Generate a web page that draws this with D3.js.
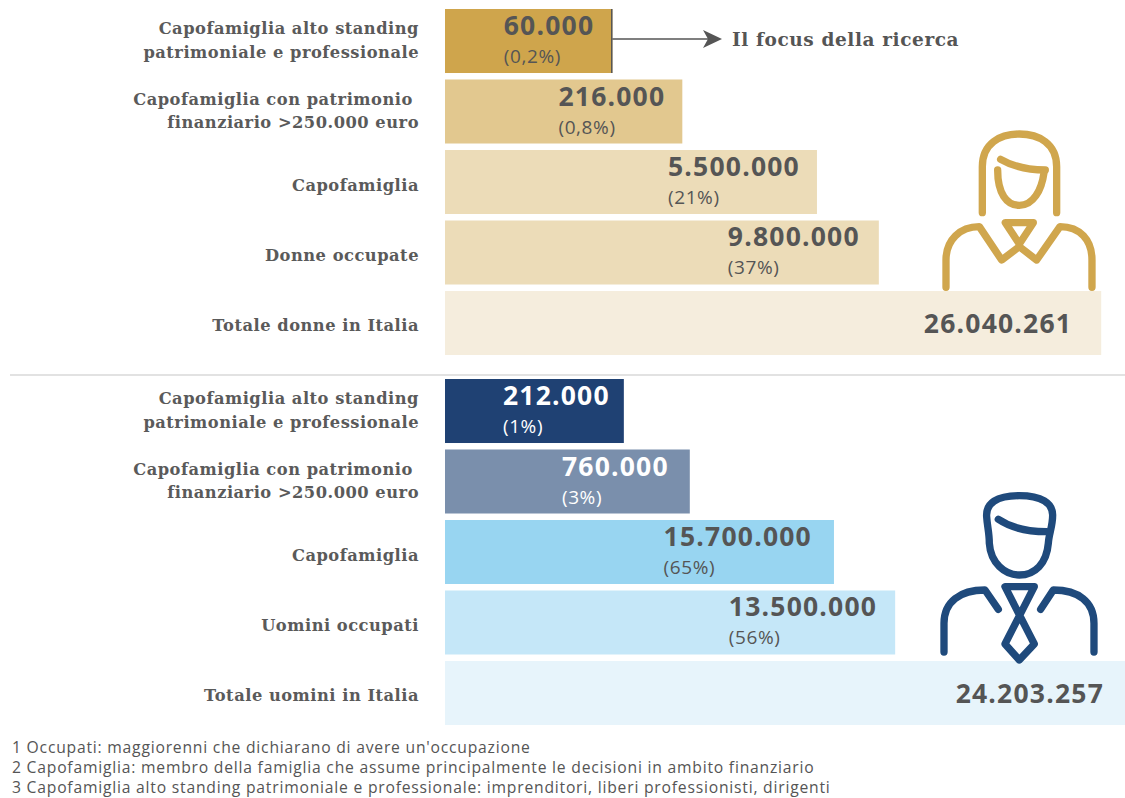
<!DOCTYPE html>
<html>
<head>
<meta charset="utf-8">
<script src="https://cdn.jsdelivr.net/npm/d3@7"></script>
<style>
html, body { margin: 0; padding: 0; background: #fff; }
svg { display: block; }
.label { font-family: "DejaVu Serif", serif; font-weight: 700; font-size: 16.3px; letter-spacing: .5px; fill: #5a5a5a; }
.value { font-family: "Open Sans", sans-serif; font-weight: 700; font-size: 26.5px; letter-spacing: 1.2px; }
.share { font-family: "Open Sans", sans-serif; font-size: 19px; letter-spacing: .6px; }
.note { font-family: "Open Sans", sans-serif; font-size: 15.7px; letter-spacing: .78px; fill: #555; }
.focus { font-family: "DejaVu Serif", serif; font-weight: 700; font-size: 18.5px; letter-spacing: .6px; fill: #555; }
</style>
</head>
<body>
<svg id="chart" width="1125" height="798"></svg>
<script>
"use strict";

var womenLabels = ["Capofamiglia alto standing|patrimoniale e professionale", "Capofamiglia con patrimonio |finanziario >250.000 euro", "Capofamiglia", "Donne occupate", "Totale donne in Italia"]
var womenValues = ["60.000", "216.000", "5.500.000", "9.800.000", "26.040.261"]
var womenShares = ["(0,2%)", "(0,8%)", "(21%)", "(37%)", ""]
// le barre non sono proporzionali ai valori: lunghezza (indice, totale uomini = 100)
var womenLengths = [24.6, 34.9, 54.7, 63.8, 96.5]

var menLabels = ["Capofamiglia alto standing|patrimoniale e professionale", "Capofamiglia con patrimonio |finanziario >250.000 euro", "Capofamiglia", "Uomini occupati", "Totale uomini in Italia"]
var menValues = ["212.000", "760.000", "15.700.000", "13.500.000", "24.203.257"]
var menShares = ["(1%)", "(3%)", "(65%)", "(56%)", ""]
var menLengths = [26.3, 36, 57.2, 66.2, 100]

var notes = [
    "1 Occupati: maggiorenni che dichiarano di avere un'occupazione",
    "2 Capofamiglia: membro della famiglia che assume principalmente le decisioni in ambito finanziario",
    "3 Capofamiglia alto standing patrimoniale e professionale: imprenditori, liberi professionisti, dirigenti"
]

var svg = d3.select("#chart")
var x = d3.scaleLinear().domain([0, 100]).range([445, 1125])

function drawGroup(top, bottom, labels, values, shares, lengths, colors, valueColors, insets) {
    var y = d3.scaleBand().domain(d3.range(labels.length)).range([top, bottom]).paddingInner(0.092)
    var row = svg.append("g").selectAll("g").data(labels).join("g")

    row.append("rect")
        .attr("x", x(0))
        .attr("y", (d, i) => y(i))
        .attr("width", (d, i) => x(lengths[i]) - x(0))
        .attr("height", y.bandwidth())
        .attr("fill", (d, i) => colors[i])

    row.each(function (d, i) {
        var lines = d.split("|")
        var mid = y(i) + y.bandwidth() / 2
        var g = d3.select(this)
        lines.forEach(function (line, k) {
            g.append("text")
                .attr("class", "label")
                .attr("x", 419)
                .attr("y", mid + (lines.length > 1 ? 5 : 8.5) + (k - (lines.length - 1) / 2) * 23.5)
                .attr("text-anchor", "end")
                .style("white-space", "pre")
                .text(line)
        })

        var hasShare = shares[i] !== ""
        var value = g.append("text")
            .attr("class", "value")
            .attr("x", x(lengths[i]) - insets[i])
            .attr("y", mid + (hasShare ? -6 : 10))
            .attr("text-anchor", "end")
            .attr("fill", valueColors[i])
            .text(values[i])

        if (hasShare) {
            // la percentuale parte dallo stesso bordo sinistro del valore
            var left = value.node().getBBox().x
            g.append("text")
                .attr("class", "share")
                .attr("x", left)
                .attr("y", mid + 22)
                .attr("fill", valueColors[i])
                .text(shares[i])
        }
    })
    return y
}

var gold = ["#cfa54c", "#e2c88f", "#ecdcb8", "#ecdcb8", "#f5eddd"]
var blue = ["#1f4173", "#7a8fac", "#98d5f1", "#c5e7f8", "#e7f4fb"]
var dark = "#555555"

var yWomen = drawGroup(9, 355, womenLabels, womenValues, womenShares, womenLengths, gold,
    [dark, dark, dark, dark, dark], [18, 17, 17, 19, 29])
drawGroup(379, 725, menLabels, menValues, menShares, menLengths, blue,
    ["#ffffff", "#ffffff", dark, dark, dark], [14, 21, 22, 18, 21])

// separatore
svg.append("line")
    .attr("x1", 10).attr("x2", 1125)
    .attr("y1", 375).attr("y2", 375)
    .attr("stroke", "#d9d9d9").attr("stroke-width", 1.5)

// freccia "Il focus della ricerca"
var barEnd = x(womenLengths[0])
var midFirst = yWomen(0) + yWomen.bandwidth() / 2
svg.append("line")
    .attr("x1", barEnd - 0.5).attr("x2", barEnd - 0.5)
    .attr("y1", yWomen(0)).attr("y2", yWomen(0) + yWomen.bandwidth())
    .attr("stroke", "#555").attr("stroke-width", 1.5)
svg.append("line")
    .attr("x1", barEnd).attr("x2", 708)
    .attr("y1", midFirst - 2).attr("y2", midFirst - 2)
    .attr("stroke", "#555").attr("stroke-width", 1.5)
svg.append("path")
    .attr("d", d3.line()([[703, midFirst - 11], [722, midFirst - 2], [703, midFirst + 7], [708, midFirst - 2]]) + "Z")
    .attr("fill", "#555")
svg.append("text")
    .attr("class", "focus")
    .attr("x", 732)
    .attr("y", midFirst + 4.5)
    .text("Il focus della ricerca")

// icone
function drawIcon(ox, oy, color, paths) {
    svg.append("g")
        .attr("transform", "translate(" + ox + "," + oy + ") scale(0.3333)")
        .selectAll("path").data(paths).join("path")
        .attr("d", d => d)
        .attr("fill", "none")
        .attr("stroke", color)
        .attr("stroke-width", 22)
        .attr("stroke-linecap", "round")
        .attr("stroke-linejoin", "round")
}

drawIcon(900, 110, "#d0a64d", [
    "M247 308V170C247 100 300 72 358 72C416 72 470 100 470 170V308",
    "M302 148C340 170 390 180 436 180",
    "M293 180C293 250 320 286 358 286C400 286 425 240 432 188",
    "M316 338H400L358 402Z",
    "M138 532V450C138 390 180 350 238 350L305 450L358 410L410 450L480 350C540 350 576 390 576 450V532"
])
drawIcon(900, 480, "#1f4a7c", [
    "M358 47C290 47 257 70 260 110C262 140 268 160 268 190C272 250 315 285 358 285C405 285 440 250 445 190C447 160 458 140 458 105C458 70 425 47 358 47Z",
    "M295 118C335 145 385 155 440 155",
    "M132 516V430C132 365 180 330 255 330L295 388",
    "M582 516V430C582 365 535 330 460 330L422 388",
    "M315 320H403L315 492L358 540L403 492L315 320Z"
])

// note
svg.append("g").selectAll("text").data(notes).join("text")
    .attr("class", "note")
    .attr("x", 12)
    .attr("y", (d, i) => 753 + i * 20)
    .text(d => d)
</script>
</body>
</html>
